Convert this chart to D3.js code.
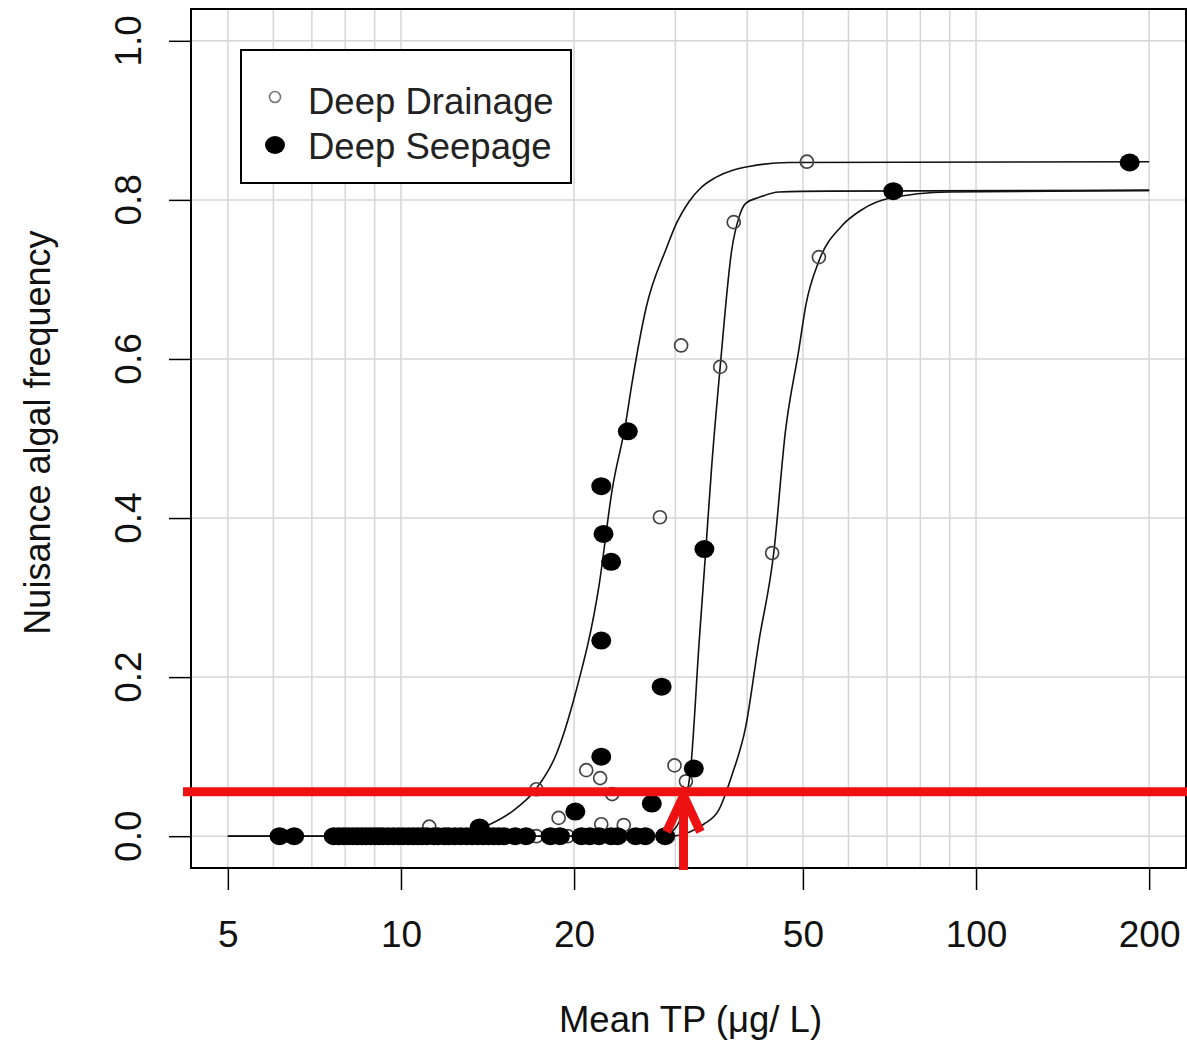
<!DOCTYPE html>
<html>
<head>
<meta charset="utf-8">
<style>
body { margin: 0; background: #fff; }
svg { display: block; font-family: "Liberation Sans", Arial, sans-serif; }
.grid line { stroke: #d6d6d6; stroke-width: 1.5; }
.curve { fill: none; stroke: #111; stroke-width: 1.6; }
</style>
<script src="https://d3js.org/d3.v7.min.js"></script>
</head>
<body>
<svg id="chart" width="1187" height="1044"></svg>
<script>
// tick values and grid positions
var xTicks = [5, 10, 20, 50, 100, 200];
var xGrid = [5, 6, 7, 8, 9, 10, 20, 30, 40, 50, 60, 70, 80, 90, 100, 200];
var yTicks = [0, 0.2, 0.4, 0.6, 0.8, 1.0];

// Deep Drainage (open circles): mean TP, frequency
var drainageTP   = [50.8, 37.9, 53.3, 30.7, 35.9, 28.2, 44.2, 29.9, 21.0, 22.2, 23.3, 17.2, 31.3, 18.8, 22.3, 24.4, 17.2, 11.2,
                    8.0, 9.2, 10.5, 12.5, 14.0, 15.5, 19.5, 21.5, 26.0];
var drainageFreq = [0.848, 0.772, 0.728, 0.617, 0.590, 0.401, 0.356, 0.089, 0.083, 0.073, 0.053, 0.059, 0.069, 0.023, 0.015, 0.014, 0, 0.012,
                    0, 0, 0, 0, 0, 0, 0, 0, 0];

// Deep Seepage (filled circles)
var seepageTP   = [185, 71.8, 24.8, 22.3, 22.5, 23.2, 33.7, 22.3, 28.4, 22.3, 32.3, 20.1, 27.3, 13.7,
                   6.15, 6.52, 7.64, 7.8, 7.95, 8.1, 8.25, 8.4, 8.55, 8.7, 8.85, 9.0, 9.15, 9.3, 9.5, 9.7, 9.9,
                   10.1, 10.3, 10.5, 10.7, 10.9, 11.1, 11.4, 11.6, 11.9, 12.1, 12.4, 12.7, 13.0, 13.3, 13.6, 13.9,
                   14.2, 14.5, 14.8, 15.1, 15.8, 16.5, 18.2, 18.9, 20.6, 21.3, 22.1, 23.2, 23.8, 25.6, 26.6, 28.8];
var seepageFreq = [0.847, 0.811, 0.509, 0.440, 0.380, 0.345, 0.361, 0.246, 0.188, 0.100, 0.085, 0.031, 0.041, 0.011,
                   0, 0, 0, 0, 0, 0, 0, 0, 0, 0, 0, 0, 0, 0, 0, 0, 0,
                   0, 0, 0, 0, 0, 0, 0, 0, 0, 0, 0, 0, 0, 0, 0, 0,
                   0, 0, 0, 0, 0, 0, 0, 0, 0, 0, 0, 0, 0, 0, 0, 0];

// fitted curves
var curveA_TP   = [5, 11.6, 13.1, 14.2, 15.6, 17.2, 18.6, 20.1, 22.1, 23.3, 24.6, 25.2, 26.7, 28.9, 30.2, 31.7, 33.2, 35.2, 40.3, 47.3, 200];
var curveA_Freq = [0, 0, 0.004, 0.014, 0.031, 0.060, 0.102, 0.179, 0.315, 0.436, 0.520, 0.568, 0.665, 0.738, 0.772, 0.798, 0.815, 0.828, 0.842, 0.847, 0.848];

var curveB_TP   = [5, 28.1, 29.8, 31.0, 31.9, 33.0, 33.9, 34.7, 35.9, 37.6, 38.7, 39.8, 41.9, 45.4, 55.4, 200];
var curveB_Freq = [0, 0, 0.008, 0.035, 0.085, 0.244, 0.361, 0.465, 0.590, 0.737, 0.778, 0.796, 0.803, 0.810, 0.811, 0.812];

var curveC_TP   = [5, 29.2, 31.7, 33.6, 35.7, 37.6, 39.8, 41.9, 44.5, 46.6, 49.2, 50.6, 53.3, 58.2, 63.1, 70.6, 89.8, 200];
var curveC_Freq = [0, 0, 0.005, 0.015, 0.033, 0.076, 0.139, 0.244, 0.357, 0.508, 0.612, 0.668, 0.723, 0.766, 0.787, 0.802, 0.810, 0.812];

// threshold line and arrow
var thresholdFreq = 0.056;
var arrowTP = 31;

var legendLabels = ["Deep Drainage", "Deep Seepage"];

var svg = d3.select("#chart");
var plot = { left: 191, right: 1186, top: 9, bottom: 868 };

// R style 4% padding on the log axis
var pad = Math.pow(200 / 5, 0.04);
var xScale = d3.scaleLog().domain([5 / pad, 200 * pad]).range([plot.left, plot.right]);
var yScale = d3.scaleLinear().domain([-0.04, 1.04]).range([plot.bottom, plot.top]);

// grid
var grid = svg.append("g").attr("class", "grid");
grid.selectAll(".gx").data(xGrid).enter().append("line")
  .attr("x1", d => xScale(d)).attr("x2", d => xScale(d))
  .attr("y1", plot.top).attr("y2", plot.bottom);
grid.selectAll(".gy").data(yTicks).enter().append("line")
  .attr("x1", plot.left).attr("x2", plot.right)
  .attr("y1", d => yScale(d)).attr("y2", d => yScale(d));

// curves
var line = d3.line()
  .x(d => xScale(d[0]))
  .y(d => yScale(d[1]))
  .curve(d3.curveMonotoneX);

[[curveA_TP, curveA_Freq], [curveB_TP, curveB_Freq], [curveC_TP, curveC_Freq]].forEach(function(c) {
  svg.append("path").attr("class", "curve").attr("d", line(d3.zip(c[0], c[1])));
});

// points
svg.append("g").selectAll("circle")
  .data(d3.zip(drainageTP, drainageFreq)).enter().append("circle")
  .attr("cx", d => xScale(d[0])).attr("cy", d => yScale(d[1]))
  .attr("r", 6.5).attr("fill", "none").attr("stroke", "#444").attr("stroke-width", 1.7);

svg.append("g").selectAll("ellipse")
  .data(d3.zip(seepageTP, seepageFreq)).enter().append("ellipse")
  .attr("cx", d => xScale(d[0])).attr("cy", d => yScale(d[1]))
  .attr("rx", 10).attr("ry", 9).attr("fill", "#000");

// axes
var xAxis = d3.axisBottom(xScale).tickValues(xTicks).tickSize(22).tickFormat(d3.format("d"));
var gx = svg.append("g").attr("transform", "translate(0," + plot.bottom + ")").call(xAxis);
gx.select(".domain").remove();
gx.selectAll("line").attr("stroke", "#000").attr("stroke-width", 1.5);
gx.selectAll("text").attr("font-size", 37).attr("fill", "#111").attr("dy", "1.45em");

var yAxis = d3.axisLeft(yScale).tickValues(yTicks).tickSize(22).tickFormat("");
var gy = svg.append("g").attr("transform", "translate(" + plot.left + ",0)").call(yAxis);
gy.select(".domain").remove();
gy.selectAll("line").attr("stroke", "#000").attr("stroke-width", 1.5);

svg.append("g").selectAll("text").data(yTicks).enter().append("text")
  .attr("transform", d => "translate(141," + yScale(d) + ") rotate(-90)")
  .attr("text-anchor", "middle")
  .attr("font-size", 37).attr("fill", "#111")
  .text(d3.format(".1f"));

// axis titles
svg.append("text")
  .attr("transform", "translate(50," + ((plot.top + plot.bottom) / 2 - 6) + ") rotate(-90)")
  .attr("text-anchor", "middle").attr("font-size", 36).attr("fill", "#111")
  .text("Nuisance algal frequency");

svg.append("text")
  .attr("x", (plot.left + plot.right) / 2 + 2).attr("y", 1032)
  .attr("text-anchor", "middle").attr("font-size", 36.5).attr("fill", "#111")
  .text("Mean TP (μg/ L)");

// legend
var legend = svg.append("g");
legend.append("rect").attr("x", 241).attr("y", 50).attr("width", 330).attr("height", 133)
  .attr("fill", "#fff").attr("stroke", "#000").attr("stroke-width", 2);
legend.append("circle").attr("cx", 275).attr("cy", 97).attr("r", 5.5)
  .attr("fill", "none").attr("stroke", "#777").attr("stroke-width", 1.6);
legend.append("ellipse").attr("cx", 275).attr("cy", 145).attr("rx", 10).attr("ry", 9).attr("fill", "#000");
legend.selectAll("text").data(legendLabels).enter().append("text")
  .attr("x", 308).attr("y", (d, i) => 114 + i * 45)
  .attr("font-size", 36.5).attr("fill", "#222")
  .text(d => d);

// plot frame
svg.append("rect")
  .attr("x", plot.left).attr("y", plot.top)
  .attr("width", plot.right - plot.left).attr("height", plot.bottom - plot.top)
  .attr("fill", "none").attr("stroke", "#000").attr("stroke-width", 2);

// threshold line + arrow
svg.append("line")
  .attr("x1", plot.left - 8).attr("x2", 1187)
  .attr("y1", yScale(thresholdFreq)).attr("y2", yScale(thresholdFreq))
  .attr("stroke", "#ee1111").attr("stroke-width", 9);

var ax = xScale(arrowTP), tipY = yScale(thresholdFreq) + 4;
svg.append("line")
  .attr("x1", ax).attr("x2", ax)
  .attr("y1", plot.bottom + 2).attr("y2", tipY)
  .attr("stroke", "#ee1111").attr("stroke-width", 9);
var headLen = 40, headAng = 25 * Math.PI / 180;
svg.append("polyline")
  .attr("points", [
    [ax - headLen * Math.sin(headAng), tipY + headLen * Math.cos(headAng)],
    [ax, tipY],
    [ax + headLen * Math.sin(headAng), tipY + headLen * Math.cos(headAng)]
  ].map(p => p.join(",")).join(" "))
  .attr("fill", "none").attr("stroke", "#ee1111").attr("stroke-width", 9)
  .attr("stroke-linejoin", "miter");
</script>
</body>
</html>
